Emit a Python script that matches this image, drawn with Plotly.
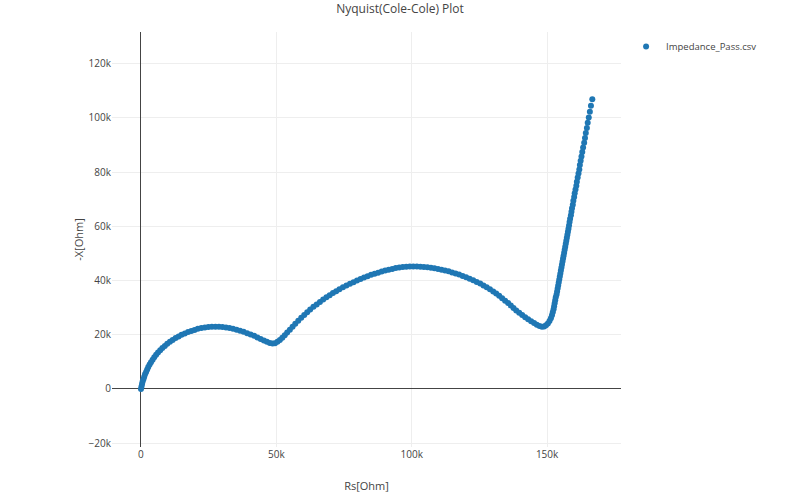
import plotly.graph_objects as go

rs_kohm = [
    0.0, 0.2, 0.4, 0.6, 0.9, 1.2, 1.5, 1.9, 2.3, 2.7, 3.2, 3.7, 4.3, 4.9, 5.6, 6.3, 7.1, 7.9, 8.8, 9.7,
    10.7, 11.7, 12.8, 13.9, 15.0, 16.2, 17.4, 18.6, 19.8, 21.0, 22.3, 23.6, 24.9, 26.2, 27.5, 28.8, 30.1,
    31.4, 32.7, 34.0, 35.3, 36.6, 37.9, 39.2, 40.5, 41.8, 43.0, 44.2, 45.4, 46.5, 47.6, 48.6, 49.5,
    50.4, 51.3, 52.2, 53.1, 54.0, 55.0, 56.0, 57.0, 58.1, 59.2, 60.3, 61.4, 62.5, 63.7, 64.9, 66.1,
    67.3, 68.5, 69.7, 70.9, 72.1, 73.3, 74.6, 75.9, 77.2, 78.5, 79.8, 81.1, 82.4, 83.7, 85.0, 86.3,
    87.6, 88.9, 90.2, 91.5, 92.8, 94.1, 95.4, 96.7, 98.0, 99.3, 100.6, 101.9, 103.2, 104.5, 105.8,
    107.1, 108.4, 109.7, 111.0, 112.3, 113.6, 114.9, 116.2, 117.5, 118.8, 120.1, 121.4, 122.7, 124.0,
    125.3, 126.5, 127.7, 128.9, 130.1, 131.2, 132.3, 133.4, 134.5, 135.6, 136.6, 137.6, 138.6, 139.7,
    140.8, 141.9, 143.0, 144.1, 145.2, 146.2, 147.2, 148.1,
    148.9, 149.6, 150.3, 150.9, 151.4, 151.8, 152.1, 152.4, 152.6, 152.8, 153.0, 153.2, 153.5, 153.7,
    153.9, 154.1, 154.3, 154.5, 154.7, 154.9, 155.1, 155.3, 155.5, 155.7, 155.9, 156.1, 156.3, 156.5,
    156.7, 156.9, 157.1, 157.3, 157.5, 157.7, 157.9, 158.1,
    158.3, 158.5, 158.8, 159.0, 159.2, 159.5, 159.7, 160.0, 160.2, 160.5, 160.8, 161.0, 161.3, 161.6,
    161.9, 162.1, 162.4, 162.7, 163.0, 163.3, 163.7, 164.0, 164.3, 164.7, 165.0, 165.4, 165.8, 166.2,
    166.7,
]
negx_kohm = [
    0.0, 0.9, 1.8, 2.7, 3.6, 4.5, 5.4, 6.3, 7.2, 8.1, 9.0, 9.9, 10.8, 11.7, 12.6, 13.5, 14.3, 15.1, 15.9, 16.7,
    17.4, 18.1, 18.8, 19.4, 20.0, 20.5, 21.0, 21.4, 21.8, 22.2, 22.5, 22.7, 22.9, 23.0, 23.0, 23.0, 22.9,
    22.7, 22.5, 22.2, 21.9, 21.5, 21.1, 20.6, 20.1, 19.6, 19.0, 18.4, 17.9, 17.4, 17.0, 16.8, 16.9,
    17.4, 18.1, 18.9, 19.8, 20.8, 21.9, 23.0, 24.1, 25.2, 26.3, 27.3, 28.3, 29.3, 30.3, 31.2, 32.1,
    33.0, 33.8, 34.6, 35.4, 36.1, 36.8, 37.5, 38.2, 38.8, 39.4, 40.0, 40.6, 41.1, 41.6, 42.1, 42.5,
    42.9, 43.3, 43.7, 44.0, 44.3, 44.6, 44.8, 45.0, 45.1, 45.2, 45.2, 45.2, 45.1, 45.0, 44.9,
    44.7, 44.5, 44.3, 44.0, 43.7, 43.4, 43.0, 42.6, 42.2, 41.7, 41.2, 40.7, 40.1, 39.5,
    38.9, 38.2, 37.5, 36.8, 36.0, 35.2, 34.4, 33.5, 32.6, 31.7, 30.8, 29.9, 29.0, 28.1,
    27.3, 26.5, 25.7, 25.0, 24.3, 23.7, 23.2, 23.0,
    23.1, 23.5, 24.2, 25.1, 26.1, 27.2, 28.3, 29.4, 30.5, 31.6, 32.7, 33.8, 34.9, 36.0,
    37.1, 38.2, 39.3, 40.4, 41.5, 42.6, 43.7, 44.8, 45.9, 47.0, 48.1, 49.2, 50.3, 51.4,
    52.5, 53.6, 54.7, 55.8, 56.9, 58.0, 59.1, 60.3,
    61.6, 62.8, 64.1, 65.4, 66.7, 68.0, 69.4, 70.8, 72.2, 73.6, 75.0, 76.5, 78.0, 79.5,
    81.0, 82.6, 84.2, 85.8, 87.4, 89.1, 90.8, 92.6, 94.4, 96.3, 98.2, 100.2, 102.3, 104.5, 106.9,
    109.5,
]

series_name = "Impedance_Pass.csv"
chart_title = "Nyquist(Cole-Cole) Plot"
x_title = "Rs[Ohm]"
y_title = "-X[Ohm]"

x_ohm = [v * 1000 for v in rs_kohm]
y_ohm = [v * 1000 for v in negx_kohm]

fig = go.Figure()
fig.add_trace(go.Scatter(
    x=x_ohm, y=y_ohm, mode="markers", name=series_name,
    marker=dict(color="#1f77b4", size=6),
    showlegend=True,
))

fig.update_layout(
    template="none",
    width=800, height=496,
    font=dict(family="Open Sans, verdana, arial, sans-serif", size=10, color="#444"),
    title=dict(text=chart_title, x=0.5, xanchor="center", y=0.983, yanchor="middle",
               font=dict(size=12)),
    margin=dict(l=112, r=179, t=32, b=49),
    paper_bgcolor="white", plot_bgcolor="white",
    legend=dict(x=1.01, y=1, xanchor="left", yanchor="top", font=dict(size=9.5)),
    xaxis=dict(title=dict(text=x_title, font=dict(size=11)), range=[-10700, 177300],
               showgrid=True, gridcolor="#eee", zeroline=True, zerolinecolor="#444",
               zerolinewidth=1, showline=False, ticks=""),
    yaxis=dict(title=dict(text=y_title, font=dict(size=11), standoff=2), range=[-21400, 131700],
               showgrid=True, gridcolor="#eee", zeroline=True, zerolinecolor="#444",
               zerolinewidth=1, showline=False, ticks=""),
)

fig.write_html("out.html", config={"displayModeBar": False},
               post_script="document.body.style.margin='0';document.body.style.overflow='hidden';")
